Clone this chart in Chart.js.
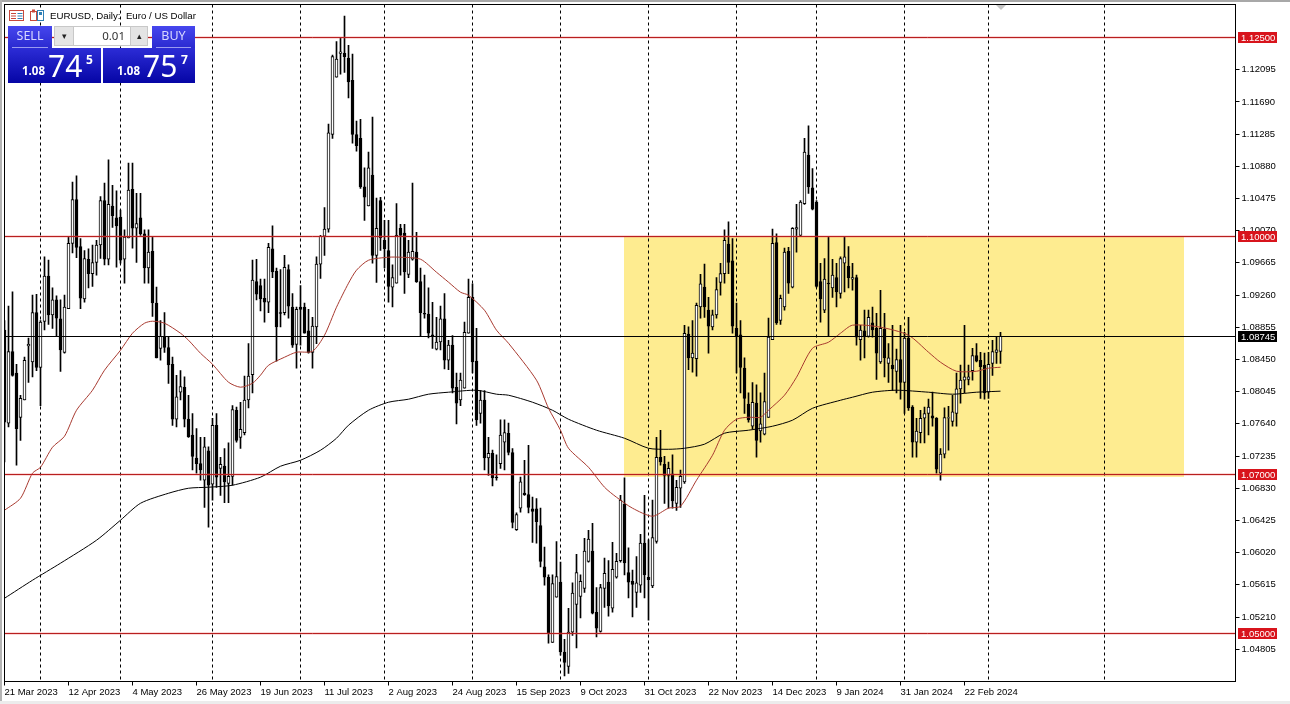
<!DOCTYPE html>
<html>
<head>
<meta charset="UTF-8">
<title>EURUSD, Daily</title>
<script src="https://cdn.jsdelivr.net/npm/chart.js@4"></script>
<style>
  html, body { margin: 0; padding: 0; background: #fff; overflow: hidden; }
  #wrap { position: relative; width: 1290px; height: 704px; font-family: "Noto Sans", Arial, sans-serif; }
  #myChart { position: absolute; left: 0; top: 0; }
  .edgeTop { position: absolute; left: 0; top: 0; width: 1290px; height: 2px; background: #a8a8a8; }
  .edgeLeft { position: absolute; left: 0; top: 0; width: 2px; height: 704px; background: #b4b4b4; }
  .edgeBottom { position: absolute; left: 0; top: 701px; width: 1290px; height: 3px; background: #ececec; }
  .title { position: absolute; left: 50px; top: 9px; font-family: "Liberation Sans", Arial, sans-serif; font-size: 9.7px; line-height: 13px; color: #000; white-space: pre; }
  .box { position: absolute; color: #fff; box-sizing: border-box; }
  .tab { top: 26px; height: 22px; background: linear-gradient(#4646ee, #2a2ad0); font-size: 12.5px; line-height: 20px; text-align: center; }
  .tab span { display: block; margin: 0 4px; height: 21px; border-bottom: 1px solid #9a9af0; color: #d8d8ff; }
  .price { top: 48px; height: 35px; background: linear-gradient(#2c2cd6, #0505a5); }
  .price b { position: absolute; left: 14px; top: 16px; font-size: 11.5px; line-height: 14px; }
  .price i { position: absolute; left: 40px; top: -1px; font-style: normal; font-size: 30px; line-height: 38px; }
  .price u { position: absolute; left: 78px; top: 5px; text-decoration: none; font-size: 12px; font-weight: bold; line-height: 14px; }
  .spin { position: absolute; top: 26px; height: 20px; background: #e4e4e4; border: 1px solid #c8c8c8; box-sizing: border-box; color: #222; font-size: 9px; line-height: 17px; text-align: center; }
  .lot { position: absolute; left: 74px; top: 26px; width: 56px; height: 20px; background: #fff; box-sizing: border-box; border-top: 1px solid #c8c8c8; border-bottom: 1px solid #c8c8c8; color: #333; font-size: 11.5px; line-height: 18px; text-align: right; padding-right: 5px; }
</style>
</head>
<body>
<div id="wrap">
  <canvas id="myChart" width="1290" height="704"></canvas>
  <div class="edgeTop"></div><div class="edgeLeft"></div><div class="edgeBottom"></div>

  <svg style="position:absolute;left:9px;top:9px" width="37" height="14">
    <rect x="0.5" y="1.5" width="14" height="10" fill="#fff" stroke="#c8483c"/>
    <path d="M2 4.5h5M2 7h5M2 9.5h5" stroke="#c8483c"/>
    <path d="M8.5 4.5h5M8.5 7h5M8.5 9.5h5" stroke="#2f7fb5"/>
    <rect x="21.5" y="2.5" width="6" height="9" fill="#fff" stroke="#c8483c"/>
    <rect x="28.5" y="1.5" width="6" height="10" fill="#fff" stroke="#2f7fb5"/>
    <rect x="23" y="0.5" width="3" height="3" fill="#c8483c"/>
    <rect x="30" y="3" width="3" height="3" fill="#2f7fb5"/>
  </svg>
  <div class="title">EURUSD, Daily:  Euro / US Dollar</div>

  <div class="box tab" style="left:8px;width:44px"><span>SELL</span></div>
  <div class="box tab" style="left:152px;width:43px"><span>BUY</span></div>
  <div class="spin" style="left:54px;width:20px">&#9662;</div>
  <div class="lot">0.01</div>
  <div class="spin" style="left:130px;width:18px">&#9652;</div>
  <div class="box price" style="left:8px;width:93px"><b>1.08</b><i>74</i><u>5</u></div>
  <div class="box price" style="left:103px;width:92px"><b>1.08</b><i>75</i><u>7</u></div>
</div>

<script>
const openPrices = [
  1.0882,1.0765,1.0855,1.0828,1.0772,1.0794,1.0862,1.0842,1.0904,1.0835,
  1.0893,1.0950,1.0901,1.0920,1.0896,1.0854,1.0909,1.0991,1.1046,1.0987,
  1.0921,1.0971,1.0953,1.0967,1.0989,1.1045,1.0971,1.1038,1.1023,1.1024,
  1.0971,1.0998,1.1059,1.1010,1.1023,1.1003,1.0960,1.0981,1.0916,1.0859,
  1.0874,1.0860,1.0839,1.0770,1.0804,1.0810,1.0770,1.0750,1.0721,1.0714,
  1.0693,1.0730,1.0688,1.0762,1.0708,1.0711,1.0689,1.0698,1.0781,1.0747,
  1.0753,1.0794,1.0826,1.0943,1.0938,1.0922,1.0917,1.0984,1.0956,1.0904,
  1.0904,1.0958,1.0911,1.0864,1.0911,1.0911,1.0881,1.0854,1.0886,1.0965,
  1.1000,1.1009,1.1128,1.1200,1.1230,1.1230,1.1224,1.1196,1.1128,1.1123,
  1.1062,1.1038,1.1077,1.0976,1.1045,1.0995,1.0982,1.0936,1.0941,1.1010,
  1.1004,1.0952,1.0971,1.0980,1.0943,1.0903,1.0902,1.0876,1.0858,1.0867,
  1.0896,1.0844,1.0863,1.0810,1.0794,1.0809,1.0878,1.0923,1.0843,1.0777,
  1.0794,1.0721,1.0727,1.0697,1.0714,1.0741,1.0752,1.0728,1.0631,1.0658,
  1.0677,1.0675,1.0657,1.0657,1.0636,1.0584,1.0571,1.0489,1.0546,1.0565,
  1.0477,1.0459,1.0502,1.0537,1.0547,1.0557,1.0591,1.0604,1.0527,1.0503,
  1.0557,1.0565,1.0532,1.0571,1.0592,1.0663,1.0577,1.0566,1.0552,1.0561,
  1.0614,1.0571,1.0560,1.0616,1.0722,1.0713,1.0699,1.0701,1.0664,1.0683,
  1.0691,1.0877,1.0847,1.0846,1.0911,1.0936,1.0907,1.0886,1.0901,1.0942,
  1.0953,1.0990,1.0969,1.0884,1.0876,1.0834,1.0789,1.0761,1.0790,1.0755,
  1.0751,1.0772,1.0870,1.0992,1.0894,1.0911,1.0981,1.0936,1.1009,1.1001,
  1.1041,1.1102,1.1061,1.1043,1.0943,1.0907,1.0941,1.0935,1.0948,1.0928,
  1.0966,1.0962,1.0946,1.0948,1.0870,1.0881,1.0874,1.0891,1.0884,1.0842,
  1.0883,1.0840,1.0838,1.0830,1.0845,1.0816,1.0872,1.0785,1.0741,1.0753,
  1.0771,1.0777,1.0774,1.0771,1.0702,1.0726,1.0771,1.0767,1.0777,1.0808,
  1.0819,1.0820,1.0831,1.0850,1.0844,1.0838,1.0804,1.0840,1.0854,1.0855
];
const highPrices = [
  1.0894,1.0912,1.0930,1.0839,1.0800,1.0848,1.0872,1.0926,1.0927,1.0894,
  1.0974,1.0970,1.0935,1.0925,1.0920,1.0926,1.0999,1.1068,1.1076,1.0997,
  1.0982,1.0984,1.0989,1.0995,1.1050,1.1067,1.1096,1.1064,1.1057,1.1033,
  1.1008,1.1092,1.1092,1.1054,1.1054,1.1008,1.1008,1.0999,1.0936,1.0894,
  1.0904,1.0874,1.0848,1.0825,1.0831,1.0823,1.0800,1.0777,1.0758,1.0747,
  1.0747,1.0735,1.0771,1.0777,1.0722,1.0733,1.0740,1.0787,1.0785,1.0791,
  1.0824,1.0865,1.0970,1.0971,1.0946,1.0946,1.0991,1.1013,1.0960,1.0958,
  1.0976,1.0964,1.0928,1.0911,1.0938,1.0916,1.0908,1.0898,1.0974,1.1001,
  1.1036,1.1141,1.1228,1.1245,1.1249,1.1277,1.1240,1.1229,1.1145,1.1147,
  1.1086,1.1106,1.1150,1.1048,1.1049,1.1020,1.1020,1.0964,1.1041,1.1015,
  1.1015,1.0995,1.1067,1.1005,1.0960,1.0951,1.0935,1.0917,1.0898,1.0912,
  1.0928,1.0869,1.0875,1.0828,1.0828,1.0892,1.0946,1.0940,1.0884,1.0806,
  1.0806,1.0747,1.0731,1.0725,1.0769,1.0769,1.0765,1.0733,1.0652,1.0697,
  1.0718,1.0737,1.0672,1.0670,1.0658,1.0609,1.0574,1.0574,1.0616,1.0590,
  1.0493,1.0532,1.0564,1.0600,1.0574,1.0620,1.0630,1.0639,1.0558,1.0562,
  1.0595,1.0592,1.0615,1.0601,1.0674,1.0696,1.0608,1.0580,1.0597,1.0625,
  1.0674,1.0618,1.0668,1.0747,1.0756,1.0723,1.0716,1.0725,1.0693,1.0706,
  1.0888,1.0886,1.0894,1.0916,1.0952,1.0965,1.0923,1.0907,1.0948,1.0966,
  1.1008,1.1018,1.0997,1.0916,1.0894,1.0847,1.0803,1.0816,1.0813,1.0803,
  1.0828,1.0897,1.1009,1.1003,1.0926,1.0985,1.0986,1.1011,1.1040,1.1045,
  1.1123,1.1139,1.1085,1.1045,1.0966,1.0972,1.0999,1.0971,1.0966,1.0974,
  1.0999,1.0987,1.0966,1.0951,1.0888,1.0907,1.0907,1.0911,1.0903,1.0932,
  1.0903,1.0865,1.0888,1.0858,1.0888,1.0879,1.0898,1.0787,1.0771,1.0781,
  1.0785,1.0795,1.0804,1.0772,1.0733,1.0784,1.0786,1.0800,1.0828,1.0838,
  1.0888,1.0838,1.0859,1.0865,1.0854,1.0853,1.0854,1.0869,1.0873,1.0879
];
const lowPrices = [
  1.0716,1.0760,1.0824,1.0712,1.0743,1.0794,1.0816,1.0823,1.0831,1.0787,
  1.0882,1.0889,1.0884,1.0875,1.0830,1.0853,1.0909,1.0979,1.0973,1.0909,
  1.0917,1.0935,1.0937,1.0951,1.0972,1.0964,1.0964,1.1011,1.0961,1.0966,
  1.0941,1.0998,1.0985,1.0967,1.1001,1.0941,1.0941,1.0899,1.0847,1.0844,
  1.0854,1.0815,1.0762,1.0760,1.0794,1.0760,1.0747,1.0706,1.0702,1.0693,
  1.0659,1.0634,1.0668,1.0684,1.0674,1.0665,1.0665,1.0687,1.0741,1.0733,
  1.0750,1.0784,1.0803,1.0920,1.0906,1.0892,1.0904,1.0948,1.0843,1.0886,
  1.0901,1.0897,1.0860,1.0834,1.0863,1.0878,1.0853,1.0834,1.0865,1.0947,
  1.0976,1.1005,1.1123,1.1200,1.1204,1.1206,1.1174,1.1117,1.1107,1.1060,
  1.1020,1.1038,1.0966,1.0942,1.0982,1.0960,1.0917,1.0911,1.0941,1.0951,
  1.0928,1.0948,1.0970,1.0942,1.0874,1.0897,1.0872,1.0859,1.0857,1.0857,
  1.0833,1.0832,1.0803,1.0764,1.0787,1.0809,1.0878,1.0828,1.0762,1.0765,
  1.0706,1.0699,1.0686,1.0693,1.0708,1.0706,1.0725,1.0633,1.0630,1.0653,
  1.0674,1.0652,1.0615,1.0614,1.0584,1.0561,1.0488,1.0489,1.0546,1.0473,
  1.0447,1.0450,1.0498,1.0482,1.0520,1.0552,1.0590,1.0525,1.0496,1.0502,
  1.0533,1.0522,1.0527,1.0570,1.0590,1.0574,1.0545,1.0521,1.0533,1.0552,
  1.0545,1.0517,1.0558,1.0614,1.0712,1.0664,1.0658,1.0658,1.0655,1.0659,
  1.0689,1.0832,1.0829,1.0824,1.0897,1.0898,1.0853,1.0882,1.0897,1.0926,
  1.0941,1.0953,1.0878,1.0828,1.0803,1.0777,1.0766,1.0758,1.0722,1.0741,
  1.0750,1.0772,1.0870,1.0889,1.0889,1.0907,1.0928,1.0935,1.0980,1.1000,
  1.1040,1.1054,1.1033,1.0936,1.0892,1.0904,1.0875,1.0923,1.0911,1.0922,
  1.0930,1.0935,1.0932,1.0863,1.0844,1.0847,1.0873,1.0873,1.0820,1.0840,
  1.0823,1.0816,1.0806,1.0803,1.0795,1.0777,1.0781,1.0722,1.0722,1.0740,
  1.0740,1.0750,1.0761,1.0702,1.0693,1.0721,1.0731,1.0761,1.0761,1.0790,
  1.0803,1.0813,1.0819,1.0842,1.0796,1.0795,1.0796,1.0825,1.0840,1.0840
];
const closePrices = [
  1.0766,1.0855,1.0825,1.0758,1.0796,1.0844,1.0864,1.0904,1.0835,1.0892,
  1.0950,1.0901,1.0920,1.0897,1.0857,1.0911,1.0991,1.1046,1.0986,1.0922,
  1.0972,1.0953,1.0967,1.0989,1.1045,1.0971,1.1040,1.1026,1.1013,1.0970,
  1.0999,1.1058,1.1010,1.1016,1.1003,1.0960,1.0980,1.0916,1.0847,1.0874,
  1.0860,1.0838,1.0770,1.0798,1.0811,1.0770,1.0748,1.0723,1.0714,1.0706,
  1.0735,1.0687,1.0762,1.0697,1.0713,1.0691,1.0698,1.0782,1.0743,1.0757,
  1.0794,1.0824,1.0945,1.0927,1.0921,1.0917,1.0986,1.0955,1.0886,1.0903,
  1.0961,1.0912,1.0863,1.0908,1.0908,1.0878,1.0854,1.0887,1.0965,1.1000,
  1.1009,1.1130,1.1226,1.1223,1.1232,1.1226,1.1194,1.1128,1.1114,1.1062,
  1.1049,1.1086,1.0976,1.1010,1.0998,1.0984,1.0937,1.0948,1.1001,1.1001,
  1.0955,1.0980,1.0981,1.0943,1.0904,1.0902,1.0878,1.0874,1.0867,1.0896,
  1.0844,1.0863,1.0809,1.0790,1.0819,1.0879,1.0923,1.0842,1.0769,1.0794,
  1.0721,1.0727,1.0696,1.0696,1.0750,1.0753,1.0728,1.0640,1.0650,1.0691,
  1.0675,1.0659,1.0654,1.0641,1.0591,1.0571,1.0500,1.0563,1.0572,1.0477,
  1.0464,1.0502,1.0551,1.0577,1.0566,1.0604,1.0619,1.0526,1.0507,1.0558,
  1.0576,1.0535,1.0581,1.0591,1.0668,1.0589,1.0565,1.0562,1.0564,1.0614,
  1.0574,1.0568,1.0621,1.0722,1.0716,1.0699,1.0708,1.0667,1.0684,1.0698,
  1.0878,1.0847,1.0853,1.0913,1.0940,1.0911,1.0887,1.0901,1.0933,1.0953,
  1.0995,1.0967,1.0887,1.0874,1.0835,1.0796,1.0769,1.0791,1.0743,1.0764,
  1.0792,1.0873,1.0991,1.0891,1.0922,1.0980,1.0941,1.1010,1.1011,1.1043,
  1.1106,1.1062,1.1034,1.0937,1.0921,1.0946,1.0940,1.0951,1.0930,1.0972,
  1.0974,1.0948,1.0948,1.0873,1.0882,1.0874,1.0898,1.0882,1.0853,1.0884,
  1.0847,1.0847,1.0833,1.0845,1.0816,1.0872,1.0784,1.0741,1.0755,1.0771,
  1.0777,1.0785,1.0771,1.0707,1.0726,1.0772,1.0772,1.0779,1.0808,1.0819,
  1.0823,1.0823,1.0850,1.0843,1.0836,1.0803,1.0839,1.0855,1.0857,1.0874
];

// moving averages, read at the bends of each curve
const fastMaBars = [0,4,7,9,12,15,18,22,25,29,32,35,37,40,44,46,49,52,56,59,62,64,66,70,73,77,80,83,86,88,91,96,99,104,108,111,114,116,120,123,126,133,136,139,141,146,150,153,157,162,166,169,173,177,180,183,186,189,191,195,198,202,206,209,212,219,226,231,234,238,243,246,249];
const fastMaValues = [1.06553,1.06704,1.0702,1.07094,1.07346,1.07484,1.07811,1.08063,1.08315,1.08566,1.0878,1.08906,1.08931,1.08906,1.0878,1.08692,1.08528,1.0839,1.08164,1.08101,1.08151,1.08252,1.08377,1.08478,1.08541,1.08553,1.08755,1.09107,1.09409,1.09573,1.09698,1.09736,1.09736,1.09711,1.09547,1.09422,1.09296,1.09258,1.09069,1.08818,1.08654,1.08189,1.07837,1.0756,1.07333,1.07094,1.06843,1.06717,1.06579,1.06478,1.06579,1.06604,1.06931,1.07245,1.0756,1.07698,1.07723,1.07723,1.07811,1.0800,1.08226,1.08591,1.08667,1.0878,1.08881,1.08856,1.08755,1.08541,1.08415,1.08302,1.08302,1.0834,1.08352];
const slowMaBars = [0,7,14,23,29,34,41,46,51,57,64,69,74,79,83,86,91,96,101,106,111,118,123,126,132,137,141,148,155,161,166,170,175,180,186,192,197,202,209,212,217,223,231,237,243,249];
const slowMaValues = [1.05446,1.05673,1.05887,1.06176,1.06428,1.06641,1.06767,1.0683,1.06843,1.06868,1.06969,1.07107,1.07182,1.07308,1.07459,1.07623,1.07811,1.07912,1.0795,1.08013,1.08038,1.08063,1.08013,1.08,1.07912,1.07811,1.07698,1.0756,1.07459,1.07333,1.0732,1.07333,1.07384,1.07522,1.0756,1.0761,1.07686,1.07836,1.07937,1.07975,1.08038,1.08063,1.08038,1.08013,1.08038,1.08051];

const dateLabels = ['21 Mar 2023','12 Apr 2023','4 May 2023','26 May 2023','19 Jun 2023','11 Jul 2023','2 Aug 2023','24 Aug 2023','15 Sep 2023','9 Oct 2023','31 Oct 2023','22 Nov 2023','14 Dec 2023','9 Jan 2024','31 Jan 2024','22 Feb 2024'];
const dateBars = [0,16,32,48,64,80,96,112,128,144,160,176,192,208,224,240];
const separatorBars = [9,29,52,74,95,117,139,161,183,203,225,246,275];
const priceTicks = [1.12095,1.1169,1.11285,1.1088,1.10475,1.1007,1.09665,1.0926,1.08855,1.0845,1.08045,1.0764,1.07235,1.0683,1.06425,1.0602,1.05615,1.0521,1.04805];
const levelPrices = [1.125,1.1,1.07,1.05];
const lastPrice = 1.08745;
const zone = { fromBar: 155, toBar: 295, top: 1.1, bottom: 1.0697 };

const AXIS_FONT = { family: '"Liberation Sans", Arial, sans-serif', size: 9.5 };

// everything the datasets can't do: zone, separators, levels, price tags, frame
const chartDecor = {
  id: 'chartDecor',
  beforeDatasetsDraw(chart) {
    const { ctx, chartArea: a, scales: { x, y } } = chart;
    ctx.save();
    ctx.fillStyle = '#feec90';
    ctx.fillRect(Math.floor(x.getPixelForValue(zone.fromBar)), Math.round(y.getPixelForValue(zone.top)),
      x.getPixelForValue(zone.toBar) - x.getPixelForValue(zone.fromBar),
      y.getPixelForValue(zone.bottom) - y.getPixelForValue(zone.top));
    ctx.strokeStyle = '#000';
    ctx.lineWidth = 1;
    ctx.setLineDash([3, 3]);
    separatorBars.forEach(function (b) {
      const px = x.getPixelForValue(b);
      ctx.beginPath();
      ctx.moveTo(px, a.top);
      ctx.lineTo(px, a.bottom);
      ctx.stroke();
    });
    ctx.restore();
  },
  afterDatasetsDraw(chart) {
    const { ctx, chartArea: a, scales: { y } } = chart;
    ctx.save();
    function level(price, color, width) {
      const py = Math.floor(y.getPixelForValue(price)) + 0.5;
      ctx.strokeStyle = color;
      ctx.lineWidth = width;
      ctx.beginPath();
      ctx.moveTo(a.left, py);
      ctx.lineTo(a.right, py);
      ctx.stroke();
    }
    function tag(price, color) {
      const py = Math.floor(y.getPixelForValue(price));
      ctx.fillStyle = color;
      ctx.fillRect(1238, py - 5, 39, 11);
      ctx.fillStyle = '#fff';
      ctx.font = AXIS_FONT.size + 'px ' + AXIS_FONT.family;
      ctx.textAlign = 'left';
      ctx.textBaseline = 'middle';
      ctx.fillText(price.toFixed(5), 1241, py + 1);
    }
    levelPrices.forEach(function (p) {
      level(p, 'rgba(230,80,80,0.22)', 3);
      level(p, '#b81f1f', 1);
    });
    level(lastPrice, '#000', 1);
    levelPrices.forEach(p => tag(p, '#d8141c'));
    tag(lastPrice, '#000');

    // frame
    ctx.strokeStyle = '#000';
    ctx.lineWidth = 1;
    ctx.strokeRect(a.left, a.top, a.right - a.left, a.bottom - a.top);

    // chart shift marker
    ctx.fillStyle = '#c4c4c4';
    ctx.beginPath();
    ctx.moveTo(996, 5);
    ctx.lineTo(1006, 5);
    ctx.lineTo(1001, 10);
    ctx.fill();
    ctx.restore();
  }
};

const bars = openPrices.map((o, i) => i);

new Chart(document.getElementById('myChart'), {
  type: 'bar',
  data: {
    datasets: [
      {
        type: 'line',
        label: 'MA fast',
        data: fastMaBars.map((b, i) => ({ x: b, y: fastMaValues[i] })),
        borderColor: '#a83a30',
        borderWidth: 1,
        pointRadius: 0,
        tension: 0.25,
        order: 1
      },
      {
        type: 'line',
        label: 'MA slow',
        data: slowMaBars.map((b, i) => ({ x: b, y: slowMaValues[i] })),
        borderColor: '#000',
        borderWidth: 1,
        pointRadius: 0,
        tension: 0.25,
        order: 1
      },
      {
        label: 'Body',
        data: bars.map(i => ({ x: i, y: [Math.min(openPrices[i], closePrices[i]), Math.max(openPrices[i], closePrices[i])] })),
        backgroundColor: ctx => closePrices[ctx.dataIndex] >= openPrices[ctx.dataIndex] ? '#fff' : '#000',
        borderColor: '#000',
        borderWidth: 1,
        borderSkipped: false,
        barThickness: 3,
        grouped: false,
        order: 2
      },
      {
        label: 'Wick',
        data: bars.map(i => ({ x: i, y: [lowPrices[i], highPrices[i]] })),
        backgroundColor: '#000',
        borderWidth: 0,
        barThickness: 1,
        grouped: false,
        order: 3
      }
    ]
  },
  options: {
    responsive: false,
    animation: false,
    events: [],
    layout: { padding: { left: 4.5, top: 4.5, right: 0, bottom: 0 } },
    plugins: { legend: { display: false }, tooltip: { enabled: false } },
    scales: {
      x: {
        type: 'linear',
        offset: false,
        min: 0,
        max: 307.75,
        border: { display: false },
        grid: { offset: false, drawOnChartArea: false, tickLength: 4, tickColor: '#000', tickWidth: 1 },
        afterBuildTicks: scale => { scale.ticks = dateBars.map(v => ({ value: v })); },
        afterFit: scale => { scale.height = 22.5; scale.paddingLeft = 0; scale.paddingRight = 0; },
        ticks: {
          autoSkip: false,
          maxRotation: 0,
          align: 'start',
          padding: 1,
          color: '#000',
          font: AXIS_FONT,
          callback: (v, i) => dateLabels[i]
        }
      },
      y: {
        position: 'right',
        beginAtZero: false,
        min: 1.04399,
        max: 1.12915,
        border: { display: false },
        grid: { drawOnChartArea: false, tickLength: 4, tickColor: '#000', tickWidth: 1 },
        afterBuildTicks: scale => { scale.ticks = priceTicks.map(v => ({ value: v })); },
        afterFit: scale => { scale.width = 54.5; scale.paddingTop = 0; scale.paddingBottom = 0; },
        ticks: {
          autoSkip: false,
          padding: 2,
          color: '#000',
          font: AXIS_FONT,
          callback: v => v.toFixed(5)
        }
      }
    }
  },
  plugins: [chartDecor]
});
</script>
</body>
</html>
